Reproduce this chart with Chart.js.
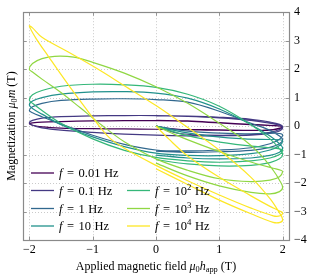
<!DOCTYPE html>
<html><head><meta charset="utf-8">
<script src="https://cdn.jsdelivr.net/npm/chart.js@4.4.1/dist/chart.umd.min.js"></script>
<style>html,body{margin:0;padding:0;background:#fff;overflow:hidden}canvas{display:block}</style>
</head><body>
<canvas id="c" width="314" height="276"></canvas>
<script>
// ---- data ----
const freqLabels = ['0.01', '0.1', '1', '10', '10^2', '10^3', '10^4'];
const seriesColors = ['#440154', '#443983', '#31688e', '#21918c', '#35b779', '#90d743', '#fde725'];
const xTicks = [-2, -1, 0, 1, 2];
const yTicks = [4, 3, 2, 1, 0, -1, -2, -3, -4];

// each path: [h, m] pairs in traversal order (start at origin, first tip, loop, second tip, back to h=0)
const loop_f001 = [[0,0],[0.15,-0.07],[0.4,-0.12],[0.8,-0.14],[1.2,-0.15],[1.6,-0.15],[1.85,-0.12],[1.97,-0.06],[2,-0.02],
  [1.97,0.0],[1.85,0.02],[1.5,0.05],[1,0.11],[0.5,0.17],[0,0.19],[-0.5,0.19],[-1,0.18],[-1.5,0.16],[-1.8,0.14],[-1.95,0.11],[-2,0.08],
  [-1.95,0.03],[-1.8,-0.03],[-1.5,-0.07],[-1,-0.09],[-0.5,-0.1],[0,-0.11],[0.5,-0.12],[1,-0.13],[1.5,-0.15],[1.8,-0.14],[1.95,-0.09],[2,-0.04],
  [1.97,0.0],[1.85,0.02],[1.5,0.06],[1,0.12],[0.5,0.18],[0,0.2]];
const loop_f01 = [[0,0],[0.15,-0.12],[0.35,-0.25],[0.7,-0.31],[1.2,-0.32],[1.5,-0.3],[1.8,-0.22],[1.95,-0.12],[2,-0.03],
  [1.95,0.06],[1.8,0.14],[1.5,0.24],[1,0.31],[0.5,0.35],[0,0.37],[-0.5,0.37],[-1,0.36],[-1.5,0.33],[-1.8,0.28],[-1.95,0.2],[-2,0.12],
  [-1.95,0.03],[-1.8,-0.06],[-1.5,-0.14],[-1,-0.22],[-0.5,-0.28],[0,-0.32],[0.5,-0.34],[1,-0.34],[1.5,-0.32],[1.8,-0.26],[1.95,-0.17],[2,-0.07],
  [1.95,0.03],[1.8,0.1],[1.5,0.2],[1,0.29],[0.5,0.34],[0,0.36]];
const loop_f1 = [[0,0],[0.4,-0.15],[0.9,-0.24],[1.4,-0.27],[1.8,-0.25],[1.95,-0.26],[2,-0.32],
  [1.95,-0.46],[1.8,-0.62],[1.5,-0.76],[1,-0.84],[0.5,-0.87],[0,-0.84],[-0.5,-0.64],[-1,-0.32],[-1.5,0.07],[-1.8,0.33],[-1.95,0.47],[-2,0.55],
  [-1.95,0.68],[-1.8,0.8],[-1.5,0.9],[-1,0.95],[-0.5,0.96],[0,0.93],[0.5,0.84],[1,0.52],[1.5,0.1],[1.8,-0.15],[1.95,-0.35],[2,-0.48],
  [1.95,-0.62],[1.8,-0.75],[1.5,-0.85],[1,-0.9],[0.5,-0.92],[0,-0.88]];
const loop_f10 = [[0,0],[0.4,-0.2],[0.9,-0.36],[1.4,-0.45],[1.8,-0.47],[1.95,-0.48],[2,-0.52],
  [1.95,-0.68],[1.8,-0.84],[1.5,-0.97],[1,-1.04],[0.5,-1.03],[0,-0.95],[-0.5,-0.72],[-1,-0.38],[-1.5,0.05],[-1.8,0.42],[-1.95,0.62],[-2,0.74],
  [-1.95,0.88],[-1.8,1.0],[-1.5,1.12],[-1,1.2],[-0.5,1.21],[0,1.16],[0.5,0.98],[1,0.6],[1.5,0.05],[1.8,-0.35],[1.95,-0.62],[2,-0.78],
  [1.95,-0.92],[1.8,-1.03],[1.5,-1.12],[1,-1.15],[0.5,-1.12],[0,-1.02]];
const loop_f100 = [[0,0],[0.4,-0.28],[0.9,-0.52],[1.4,-0.68],[1.8,-0.76],[1.95,-0.8],[2,-0.85],
  [1.95,-1.0],[1.8,-1.12],[1.5,-1.22],[1,-1.27],[0.5,-1.22],[0,-1.1],[-0.5,-0.85],[-1,-0.45],[-1.5,0.1],[-1.8,0.55],[-1.95,0.8],[-2,0.92],
  [-1.95,1.1],[-1.8,1.25],[-1.5,1.4],[-1,1.47],[-0.5,1.45],[0,1.36],[0.5,1.12],[1,0.7],[1.5,0.05],[1.8,-0.45],[1.95,-0.8],[2,-1.0],
  [1.95,-1.15],[1.8,-1.28],[1.5,-1.38],[1,-1.4],[0.5,-1.33],[0,-1.18]];
const loop_f1000 = [[0,0],[0.3,-0.3],[0.7,-0.65],[1.2,-1.05],[1.6,-1.33],[1.85,-1.48],[1.97,-1.55],[2,-1.6],
  [1.95,-1.78],[1.8,-1.9],[1.5,-1.95],[1,-1.85],[0.5,-1.55],[0,-1.15],[-0.5,-0.55],[-0.85,0.02],[-1.2,0.65],[-1.5,1.18],[-1.8,1.65],[-1.95,1.9],[-2,2.0],
  [-1.95,2.2],[-1.8,2.37],[-1.6,2.45],[-1.3,2.42],[-1,2.24],[-0.5,1.86],[0,1.38],[0.5,0.8],[1,0.1],[1.4,-0.5],[1.65,-1.0],[1.85,-1.55],[1.95,-1.9],[2,-2.15],
  [1.95,-2.3],[1.8,-2.38],[1.5,-2.33],[1,-2.1],[0.5,-1.75],[0,-1.3]];
const loop_f10000 = [[0,0],[0.2,-0.45],[0.5,-1.05],[1,-1.8],[1.5,-2.45],[1.8,-2.82],[1.95,-2.98],[2,-3.05],
  [1.96,-3.15],[1.85,-3.15],[1.5,-2.88],[1,-2.42],[0.5,-1.92],[0,-1.38],[-0.5,-0.78],[-0.75,-0.38],[-1.05,0.45],[-1.4,1.5],[-1.7,2.45],[-1.9,3.1],[-2,3.52],
  [-1.95,3.45],[-1.8,3.12],[-1.4,2.62],[-0.9,1.98],[-0.5,1.42],[0,0.72],[0.5,-0.05],[1,-0.85],[1.5,-1.8],[1.8,-2.55],[1.95,-3.05],[2,-3.28],
  [1.96,-3.38],[1.85,-3.38],[1.5,-3.08],[1,-2.6],[0.5,-2.05],[0,-1.5]];

const loops = [loop_f001, loop_f01, loop_f1, loop_f10, loop_f100, loop_f1000, loop_f10000];

// ---- rendering ----
const SERIF = '"Liberation Serif", "DejaVu Serif", serif';
const fmt = v => (v < 0 ? '\u2212' + Math.abs(v) : String(v));

function fontStr(size, italic) { return (italic ? 'italic ' : '') + size + 'px ' + SERIF; }
function partsWidth(ctx, parts, size) {
  let w = 0;
  for (const p of parts) {
    const s = p.sup || p.sub ? size * 0.7 : size;
    ctx.font = fontStr(s, p.it);
    w += ctx.measureText(p.t).width + (p.gap || 0);
  }
  return w;
}
function drawParts(ctx, parts, x, y, size) {
  ctx.textBaseline = 'alphabetic';
  ctx.textAlign = 'left';
  for (const p of parts) {
    const s = p.sup || p.sub ? size * 0.7 : size;
    ctx.font = fontStr(s, p.it);
    const dy = p.sup ? -size * 0.38 : p.sub ? size * 0.2 : 0;
    ctx.fillText(p.t, x, y + dy);
    x += ctx.measureText(p.t).width + (p.gap || 0);
  }
}
function legendParts(lbl) {
  const parts = [{t: 'f', it: true, gap: 4.5}, {t: '=', gap: 4.5}];
  if (lbl.includes('^')) {
    const [b, e] = lbl.split('^');
    parts.push({t: b}); parts.push({t: e, sup: true, gap: 3.5});
  } else {
    parts.push({t: lbl, gap: 3.5});
  }
  parts.push({t: 'Hz'});
  return parts;
}

const decor = {
  id: 'decor',
  beforeDatasetsDraw(chart) {
    const {ctx, chartArea: a, scales: {x, y}} = chart;
    ctx.save();
    ctx.strokeStyle = '#bdbdbd'; ctx.lineWidth = 0.8; ctx.setLineDash([1, 2]);
    ctx.beginPath();
    xTicks.forEach(v => { const p = Math.round(x.getPixelForValue(v)) + 0.5; ctx.moveTo(p, a.top); ctx.lineTo(p, a.bottom); });
    yTicks.forEach(v => { const p = Math.round(y.getPixelForValue(v)) + 0.5; ctx.moveTo(a.left, p); ctx.lineTo(a.right, p); });
    ctx.stroke();
    ctx.restore();
  },
  afterDatasetsDraw(chart) {
    const {ctx, chartArea: a, scales: {x, y}} = chart;
    ctx.save();
    // frame
    ctx.strokeStyle = '#8a8a8a'; ctx.lineWidth = 1.2;
    ctx.strokeRect(Math.round(a.left) + 0.5, Math.round(a.top) + 0.5, Math.round(a.right - a.left), Math.round(a.bottom - a.top));
    // inner ticks
    ctx.lineWidth = 0.9; ctx.beginPath();
    const tl = 3.5;
    xTicks.forEach(v => { const p = Math.round(x.getPixelForValue(v)) + 0.5;
      ctx.moveTo(p, a.bottom); ctx.lineTo(p, a.bottom - tl); ctx.moveTo(p, a.top); ctx.lineTo(p, a.top + tl); });
    yTicks.forEach(v => { const p = Math.round(y.getPixelForValue(v)) + 0.5;
      ctx.moveTo(a.left, p); ctx.lineTo(a.left + tl, p); ctx.moveTo(a.right, p); ctx.lineTo(a.right - tl, p); });
    ctx.stroke();
    // legend
    ctx.fillStyle = '#000';
    const rowY = [173, 190.5, 208.5, 226];
    freqLabels.forEach((lbl, i) => {
      const col = i < 4 ? 0 : 1;
      const row = i < 4 ? i : i - 3;
      const x0 = col === 0 ? 31 : 127;
      const yy = rowY[row];
      ctx.strokeStyle = seriesColors[i]; ctx.lineWidth = 1.3; ctx.setLineDash([]);
      ctx.beginPath(); ctx.moveTo(x0, yy); ctx.lineTo(x0 + 23, yy); ctx.stroke();
      drawParts(ctx, legendParts(lbl), x0 + 28, yy + 4, 12.5);
    });
    // x title
    const xt = [{t: 'Applied magnetic field '}, {t: '\u03bc', it: true}, {t: '0', sub: true}, {t: 'h', it: true}, {t: 'app', sub: true, gap: 3}, {t: '(T)'}];
    const xw = partsWidth(ctx, xt, 12);
    drawParts(ctx, xt, (a.left + a.right) / 2 - xw / 2, 270, 12);
    // y title
    const yt = [{t: 'Magnetization '}, {t: '\u03bc', it: true}, {t: '0', sub: true}, {t: 'm', it: true, gap: 3}, {t: '(T)'}];
    const yw = partsWidth(ctx, yt, 12);
    ctx.translate(15, (a.top + a.bottom) / 2);
    ctx.rotate(-Math.PI / 2);
    drawParts(ctx, yt, -yw / 2, 0, 12);
    ctx.restore();
  }
};

const datasets = loops.map((pts, i) => ({
  label: 'f = ' + freqLabels[i] + ' Hz',
  data: pts.map(([h, m]) => ({x: h, y: m})),
  borderColor: seriesColors[i],
  borderWidth: 1.2,
  pointRadius: 0,
  showLine: true,
  fill: false,
  tension: 0.35,
  order: loops.length - i
}));

new Chart(document.getElementById('c'), {
  type: 'scatter',
  data: {datasets},
  options: {
    responsive: false,
    devicePixelRatio: 1,
    animation: false,
    events: [],
    layout: {padding: {left: 23, top: 8, right: 0, bottom: 0}},
    plugins: {legend: {display: false}, tooltip: {enabled: false}},
    scales: {
      x: {
        type: 'linear', min: -2.1, max: 2.1,
        afterBuildTicks: s => { s.ticks = xTicks.map(v => ({value: v})); },
        afterFit: s => { s.height = 36; },
        grid: {display: false, drawTicks: false},
        border: {display: false},
        ticks: {color: '#000', font: {family: SERIF, size: 12}, padding: 3, maxRotation: 0, autoSkip: false, callback: v => fmt(v)}
      },
      y: {
        type: 'linear', position: 'right', min: -4, max: 4,
        afterBuildTicks: s => { s.ticks = yTicks.map(v => ({value: v})); },
        afterFit: s => { s.width = 25; },
        grid: {display: false, drawTicks: false},
        border: {display: false},
        ticks: {color: '#000', font: {family: SERIF, size: 12}, padding: 5, crossAlign: 'near', autoSkip: false, callback: v => fmt(v)}
      }
    }
  },
  plugins: [decor]
});
</script>
</body></html>
